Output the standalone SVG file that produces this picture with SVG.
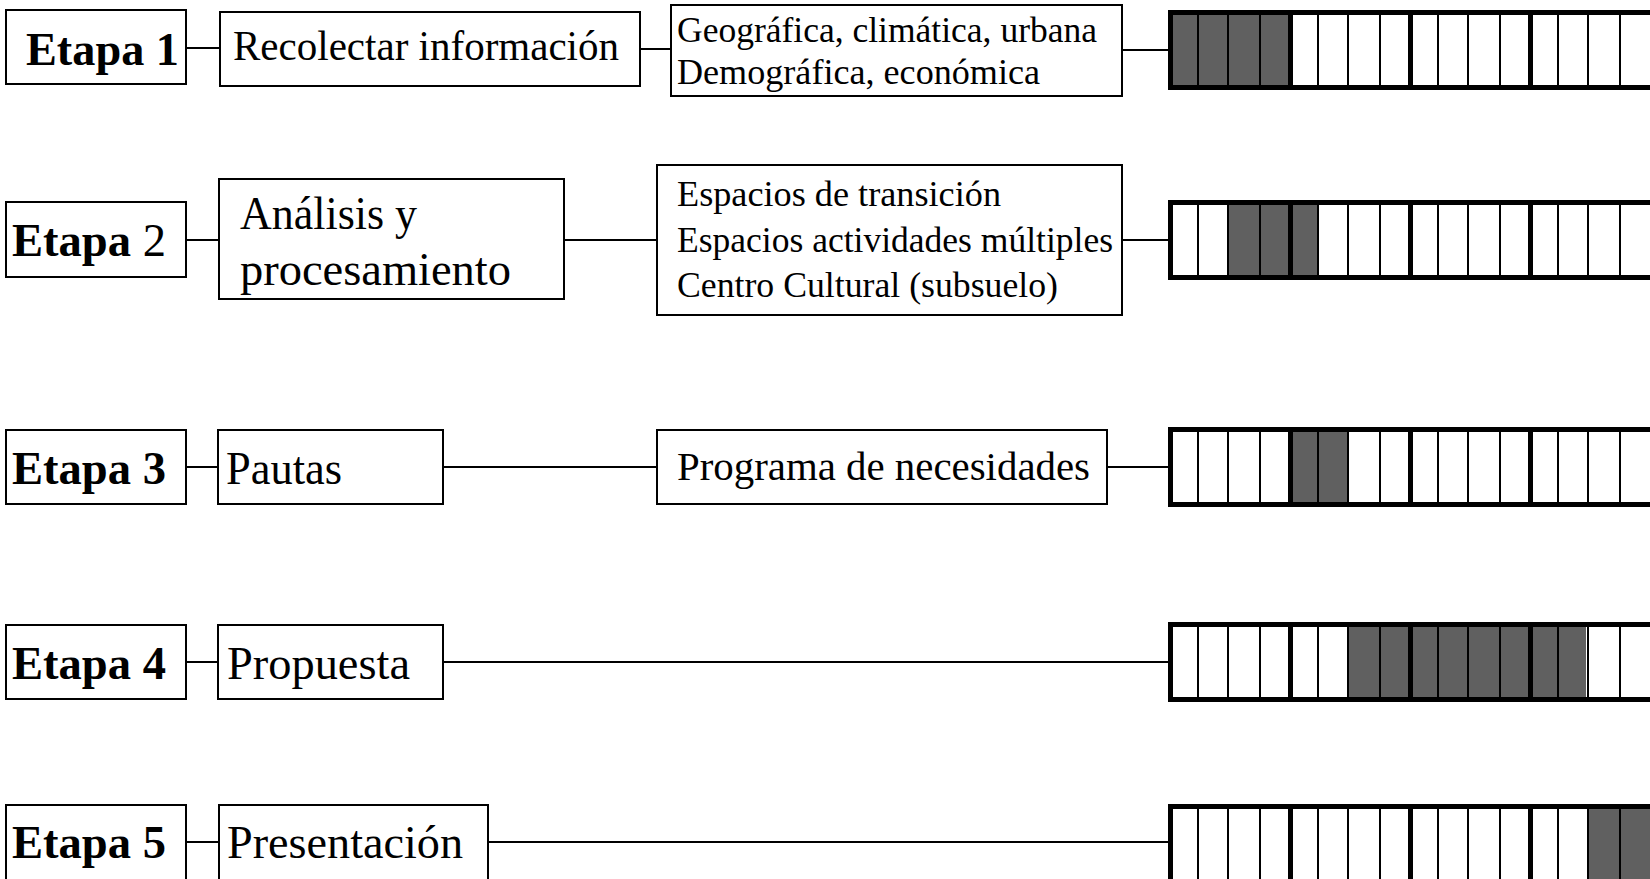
<svg xmlns="http://www.w3.org/2000/svg" xmlns:xlink="http://www.w3.org/1999/xlink" width="1650" height="879" viewBox="0 0 1650 879">
<style>
.box{fill:#fff;stroke:#000;stroke-width:2}
.t{font-family:"Liberation Serif","Times New Roman",serif;fill:#000}
.b{font-weight:bold}
.con{stroke:#000;stroke-width:2;fill:none}
.g{fill:#606060}
.thin{stroke:#000;stroke-width:2}
.thick{stroke:#000;stroke-width:5}
.outer{fill:none;stroke:#000;stroke-width:5}
</style>
<defs>
<g id="bar">
<line class="thin" x1="1198" y1="4" x2="1198" y2="76"/>
<line class="thin" x1="1228" y1="4" x2="1228" y2="76"/>
<line class="thin" x1="1260" y1="4" x2="1260" y2="76"/>
<line class="thick" x1="1290.5" y1="4" x2="1290.5" y2="76"/>
<line class="thin" x1="1318" y1="4" x2="1318" y2="76"/>
<line class="thin" x1="1348" y1="4" x2="1348" y2="76"/>
<line class="thin" x1="1380" y1="4" x2="1380" y2="76"/>
<line class="thick" x1="1410.5" y1="4" x2="1410.5" y2="76"/>
<line class="thin" x1="1438" y1="4" x2="1438" y2="76"/>
<line class="thin" x1="1468" y1="4" x2="1468" y2="76"/>
<line class="thin" x1="1500" y1="4" x2="1500" y2="76"/>
<line class="thick" x1="1530.5" y1="4" x2="1530.5" y2="76"/>
<line class="thin" x1="1558" y1="4" x2="1558" y2="76"/>
<line class="thin" x1="1588" y1="4" x2="1588" y2="76"/>
<line class="thin" x1="1620" y1="4" x2="1620" y2="76"/>
<rect class="outer" x="1170.5" y="2.5" width="520" height="75"/>
</g>
</defs>
<rect width="1650" height="879" fill="#fff"/>

<g id="connectors">
<line class="con" x1="186" y1="48" x2="220" y2="48"/>
<line class="con" x1="640" y1="49" x2="671" y2="49"/>
<line class="con" x1="1122" y1="50" x2="1170" y2="50"/>
<line class="con" x1="186" y1="240" x2="219" y2="240"/>
<line class="con" x1="564" y1="240" x2="657" y2="240"/>
<line class="con" x1="1122" y1="240" x2="1170" y2="240"/>
<line class="con" x1="186" y1="467" x2="218" y2="467"/>
<line class="con" x1="443" y1="467" x2="657" y2="467"/>
<line class="con" x1="1107" y1="467" x2="1170" y2="467"/>
<line class="con" x1="186" y1="662" x2="218" y2="662"/>
<line class="con" x1="443" y1="662" x2="1170" y2="662"/>
<line class="con" x1="186" y1="842" x2="219" y2="842"/>
<line class="con" x1="488" y1="842" x2="1170" y2="842"/>
</g>

<!-- Row 1 -->
<g id="etapa1">
<rect class="box" x="6" y="10" width="180" height="74"/>
<text class="t b" x="26" y="65" font-size="46" textLength="153" lengthAdjust="spacingAndGlyphs">Etapa 1</text>
</g>
<g id="recolectar">
<rect class="box" x="220" y="12" width="420" height="74"/>
<text class="t" x="233" y="60" font-size="42" textLength="386" lengthAdjust="spacingAndGlyphs">Recolectar información</text>
</g>
<g id="geografica">
<rect class="box" x="671" y="5" width="451" height="91"/>
<text class="t" x="677" y="42" font-size="35" textLength="420" lengthAdjust="spacingAndGlyphs">Geográfica, climática, urbana</text>
<text class="t" x="677" y="84" font-size="35" textLength="363" lengthAdjust="spacingAndGlyphs">Demográfica, económica</text>
</g>
<g id="bar1">
<rect class="g" x="1172" y="14" width="117" height="72"/>
<use xlink:href="#bar" href="#bar" transform="translate(0,10)"/>
</g>

<!-- Row 2 -->
<g id="etapa2">
<rect class="box" x="6" y="202" width="180" height="75"/>
<text class="t" x="12" y="256" font-size="46" textLength="154" lengthAdjust="spacingAndGlyphs"><tspan class="b">Etapa</tspan> 2</text>
</g>
<g id="analisis">
<rect class="box" x="219" y="179" width="345" height="120"/>
<text class="t" x="240" y="229" font-size="46" textLength="177" lengthAdjust="spacingAndGlyphs">Análisis y</text>
<text class="t" x="240" y="285" font-size="46" textLength="271" lengthAdjust="spacingAndGlyphs">procesamiento</text>
</g>
<g id="espacios">
<rect class="box" x="657" y="165" width="465" height="150"/>
<text class="t" x="677" y="206" font-size="35" textLength="324" lengthAdjust="spacingAndGlyphs">Espacios de transición</text>
<text class="t" x="677" y="252" font-size="35" textLength="436" lengthAdjust="spacingAndGlyphs">Espacios actividades múltiples</text>
<text class="t" x="677" y="297" font-size="35" textLength="381" lengthAdjust="spacingAndGlyphs">Centro Cultural (subsuelo)</text>
</g>
<g id="bar2">
<rect class="g" x="1228" y="204" width="60" height="72"/>
<rect class="g" x="1292" y="204" width="26" height="72"/>
<use xlink:href="#bar" href="#bar" transform="translate(0,200)"/>
</g>

<!-- Row 3 -->
<g id="etapa3">
<rect class="box" x="6" y="430" width="180" height="74"/>
<text class="t b" x="12" y="484" font-size="46" textLength="154" lengthAdjust="spacingAndGlyphs">Etapa 3</text>
</g>
<g id="pautas">
<rect class="box" x="218" y="430" width="225" height="74"/>
<text class="t" x="226" y="484" font-size="46" textLength="116" lengthAdjust="spacingAndGlyphs">Pautas</text>
</g>
<g id="programa">
<rect class="box" x="657" y="430" width="450" height="74"/>
<text class="t" x="677" y="480" font-size="40" textLength="413" lengthAdjust="spacingAndGlyphs">Programa de necesidades</text>
</g>
<g id="bar3">
<rect class="g" x="1292" y="431" width="56" height="72"/>
<use xlink:href="#bar" href="#bar" transform="translate(0,427)"/>
</g>

<!-- Row 4 -->
<g id="etapa4">
<rect class="box" x="6" y="625" width="180" height="74"/>
<text class="t b" x="12" y="679" font-size="46" textLength="154" lengthAdjust="spacingAndGlyphs">Etapa 4</text>
</g>
<g id="propuesta">
<rect class="box" x="218" y="625" width="225" height="74"/>
<text class="t" x="227" y="679" font-size="46" textLength="183" lengthAdjust="spacingAndGlyphs">Propuesta</text>
</g>
<g id="bar4">
<rect class="g" x="1348" y="626" width="238" height="72"/>
<use xlink:href="#bar" href="#bar" transform="translate(0,622)"/>
</g>

<!-- Row 5 -->
<g id="etapa5">
<rect class="box" x="6" y="805" width="180" height="85"/>
<text class="t b" x="12" y="858" font-size="46" textLength="154" lengthAdjust="spacingAndGlyphs">Etapa 5</text>
</g>
<g id="presentacion">
<rect class="box" x="219" y="805" width="269" height="85"/>
<text class="t" x="227" y="858" font-size="46" textLength="236" lengthAdjust="spacingAndGlyphs">Presentación</text>
</g>
<g id="bar5">
<rect class="g" x="1588" y="808" width="70" height="72"/>
<use xlink:href="#bar" href="#bar" transform="translate(0,804)"/>
</g>
</svg>
